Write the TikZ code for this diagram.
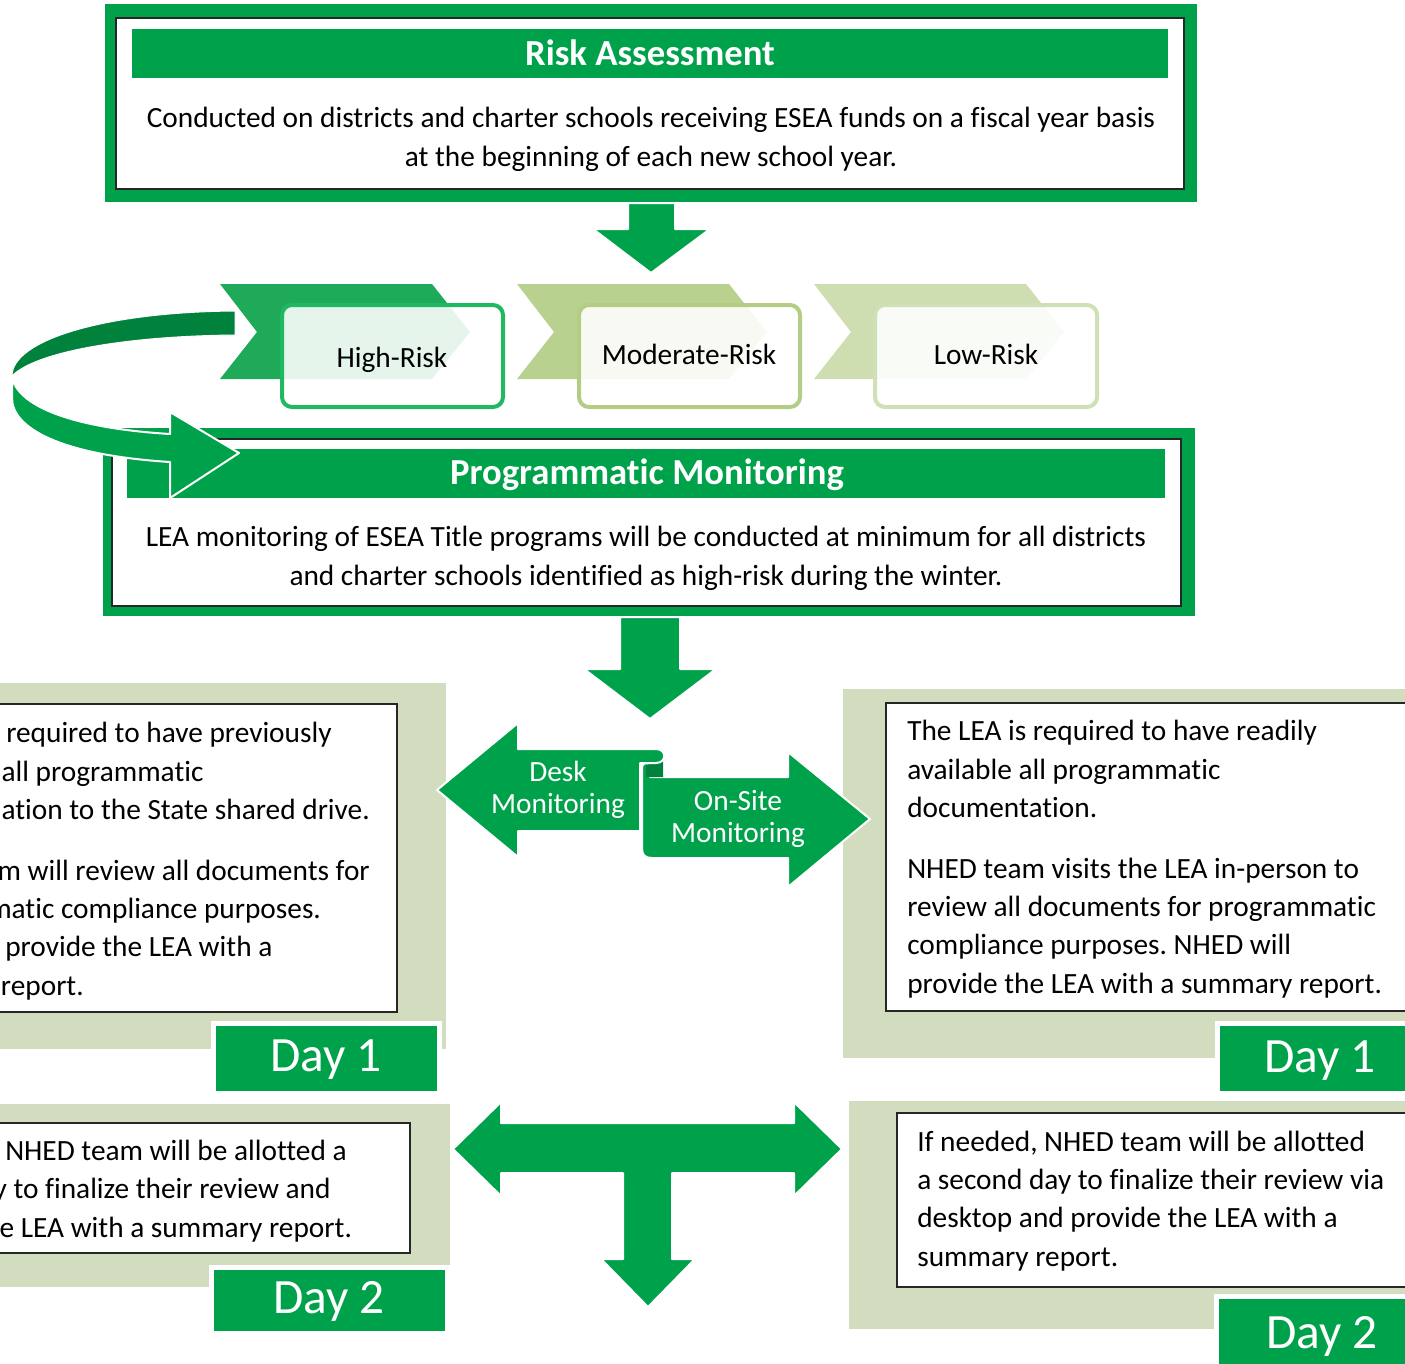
\documentclass[tikz,border=0pt]{standalone}
\usepackage{fontspec}
\setmainfont{Carlito}[Ligatures=NoCommon]
\usepackage{tikz}
\frenchspacing

\definecolor{mgreen}{RGB}{0,161,75}
\definecolor{dgreen}{RGB}{0,130,61}
\definecolor{panel}{RGB}{209,221,190}
\definecolor{hichev}{RGB}{31,170,89}
\definecolor{hiline}{RGB}{32,184,97}
\definecolor{modchev}{RGB}{185,209,142}
\definecolor{modline}{RGB}{180,205,133}
\definecolor{lowchev}{RGB}{206,222,176}
\definecolor{lowline}{RGB}{208,224,181}

\begin{document}
\begin{tikzpicture}[x=0.75pt,y=0.75pt,yscale=-1,xscale=1,
  body/.style={font=\fontsize{22}{28.7}\selectfont, inner sep=0pt},
  head/.style={font=\fontsize{27.5}{33}\selectfont\bfseries, text=white, inner sep=0pt},
  arrowtxt/.style={font=\fontsize{22}{23.3}\selectfont, text=white, inner sep=0pt, align=center},
  daytxt/.style={font=\fontsize{37}{44}\selectfont, text=white, inner sep=0pt},
  blockarrow/.style={fill=mgreen, draw=white, line width=1.5pt, line join=round},
  riskbox/.style={rounded corners=7.5pt, line width=3pt, fill=white, fill opacity=0.89},
  textbox/.style={fill=white, draw=black!85, line width=0.9pt},
  daybox/.style={fill=mgreen, draw=white, line width=3.75pt}]
\useasboundingbox (0,0) rectangle (1405,1363);
\clip (0,0) rectangle (1405,1363);

%Shape: Risk Assessment frame
\fill[mgreen] (105,4) rectangle (1197,202);
\draw[textbox] (116,18) rectangle (1184,189);
\fill[mgreen] (132,29) rectangle (1168,78);
% Text Node
\node[head, anchor=base] (ratitle) at (650,65) {Risk Assessment};
% Text Node
\node[body, anchor=base, align=center] (ratext) at (651,166) {Conducted on districts and charter schools receiving ESEA funds on a fiscal year basis\\at the beginning of each new school year.};

%Shape: Down Arrow
\draw[blockarrow] (628,203) -- (675,203) -- (675,229) -- (710,229) -- (651,273) -- (593,229) -- (628,229) -- cycle;

%Shape: Chevrons
\fill[hichev] (220,284) -- (432,284) -- (470,332) -- (432,379) -- (220,379) -- (257,332) -- cycle;
\fill[modchev] (517,284) -- (729,284) -- (767,332) -- (729,379) -- (517,379) -- (554,332) -- cycle;
\fill[lowchev] (814,284) -- (1026,284) -- (1064,332) -- (1026,379) -- (814,379) -- (851,332) -- cycle;
%Rounded Rect
\draw[riskbox, draw=hiline] (282,305) rectangle (503,407);
\draw[riskbox, draw=modline] (579,305) rectangle (800,407);
\draw[riskbox, draw=lowline] (875,305) rectangle (1097,407);
% Text Node
\node[body, anchor=base] (high) at (392,367) {High-Risk};
% Text Node
\node[body, anchor=base] (moderate) at (689,364) {Moderate-Risk};
% Text Node
\node[body, anchor=base] (low) at (986,364) {Low-Risk};

%Shape: Programmatic Monitoring frame
\fill[mgreen] (103,428) rectangle (1195,616);
\draw[textbox] (112,439) rectangle (1181,606);
\fill[mgreen] (127,449) rectangle (1165,498);
% Text Node
\node[head, anchor=base] (pmtitle) at (647,484) {Programmatic Monitoring};
% Text Node
\node[body, anchor=base, align=center] (pmtext) at (646,585) {LEA monitoring of ESEA Title programs will be conducted at minimum for all districts\\and charter schools identified as high-risk during the winter.};

%Shape: Circular Arrow
\draw[fill=dgreen, draw=white, line width=0.75pt] (235,311) .. controls (105,312) and (12,340) .. (12,376) .. controls (35,352) and (125,336) .. (235,335) -- cycle;
\draw[blockarrow] (12,376) .. controls (16,405) and (70,428) .. (170,434) -- (170,412) -- (239,453) -- (170,498) -- (170,462) .. controls (60,455) and (12,428) .. (12,398) -- cycle;

%Shape: Down Arrow
\draw[blockarrow] (620,617) -- (680,617) -- (680,669) -- (716,669) -- (650,719) -- (584,669) -- (620,669) -- cycle;

%Shape: Desk Day 1 panel
\fill[panel] (0,683) rectangle (446,1049);
\draw[textbox] (-5,704) rectangle (397,1012);
\draw[daybox] (213,1023) rectangle (439,1093);
% Text Node
\node[body, anchor=base west, align=left] (deskone) at (0,995) {\hspace*{4.5pt}required to have previously\\
\hspace*{1pt}all programmatic\\
\hspace*{1pt}ation to the State shared drive.\\[17pt]
\hspace*{-2pt}m will review all documents for\\
\hspace*{-9pt}matic compliance purposes.\\
\hspace*{3.75pt}provide the LEA with a\\
\hspace*{0.5pt}report.};
% Text Node
\node[daytxt, anchor=base] (deskdayone) at (326,1071) {Day 1};

%Shape: On-Site Day 1 panel
\fill[panel] (843,689) rectangle (1410,1058);
\draw[textbox] (886,703) rectangle (1410,1011);
\draw[daybox] (1217,1023) rectangle (1420,1093);
% Text Node
\node[body, anchor=base west, align=left] (siteone) at (907,993) {The LEA is required to have readily\\
available all programmatic\\
documentation.\\[17pt]
NHED team visits the LEA in-person to\\
review all documents for programmatic\\
compliance purposes. NHED will\\
provide the LEA with a summary report.};
% Text Node
\node[daytxt, anchor=base] (sitedayone) at (1320,1072) {Day 1};

%Shape: Desk Day 2 panel
\fill[panel] (0,1104) rectangle (450,1287);
\draw[textbox] (-5,1123) rectangle (410,1253);
\draw[daybox] (211,1267) rectangle (447,1333);
% Text Node
\node[body, anchor=base west, align=left] (desktwo) at (0,1237) {\hspace*{3.75pt}NHED team will be allotted a\\
\hspace*{-5pt}y to finalize their review and\\
\hspace*{-0.5pt}e LEA with a summary report.};
% Text Node
\node[daytxt, anchor=base] (deskdaytwo) at (329,1313) {Day 2};

%Shape: On-Site Day 2 panel
\fill[panel] (849,1101) rectangle (1410,1329);
\draw[textbox] (897,1113) rectangle (1410,1287);
\draw[daybox] (1216,1296) rectangle (1420,1380);
% Text Node
\node[body, anchor=base west, align=left] (sitetwo) at (917,1266) {If needed, NHED team will be allotted\\
a second day to finalize their review via\\
desktop and provide the LEA with a\\
summary report.};
% Text Node
\node[daytxt, anchor=base] (sitedaytwo) at (1322,1348) {Day 2};

%Shape: Desk / On-Site arrows
\draw[blockarrow] (642,768) .. controls (642,763) and (646,762) .. (650,764) -- (650,777) -- (788,777) -- (788,752) -- (870,819) -- (788,887) -- (788,858) -- (652,858) .. controls (645,858) and (642,855) .. (642,848) -- cycle;
\fill[dgreen] (646,766) .. controls (650,762) and (656,763) .. (663,760) -- (663,777) -- (646,777) -- cycle;
\draw[blockarrow] (437,790) -- (518,723) -- (518,749) -- (656,749) .. controls (667,749) and (667,763) .. (656,763) -- (640,763) -- (640,831) -- (518,831) -- (518,857) -- cycle;
% Text Node
\node[arrowtxt, anchor=base] (desk) at (558,813) {Desk\\Monitoring};
% Text Node
\node[arrowtxt, anchor=base] (onsite) at (738,842) {On-Site\\Monitoring};

%Shape: Split Arrow
\draw[blockarrow] (453,1149) -- (501,1102) -- (501,1123) -- (794,1123) -- (794,1102) -- (842,1149) -- (794,1196) -- (794,1173) -- (672,1173) -- (672,1259) -- (695,1259) -- (648,1307) -- (601,1259) -- (623,1259) -- (623,1173) -- (501,1173) -- (501,1196) -- cycle;

\end{tikzpicture}
\end{document}
